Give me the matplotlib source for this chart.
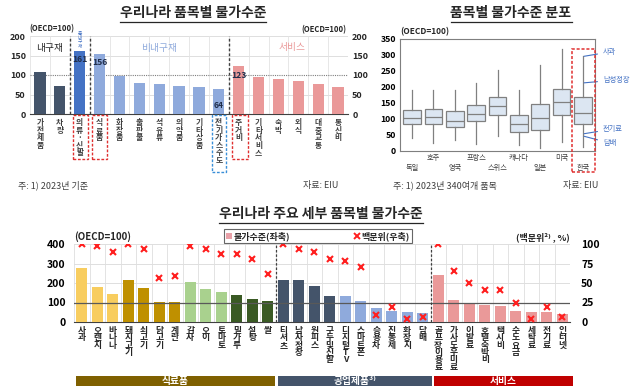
import matplotlib
matplotlib.use('Agg')
import matplotlib.pyplot as plt
from matplotlib.patches import Rectangle, Patch
from matplotlib.lines import Line2D

plt.rcParams['font.family'] = ['Noto Sans CJK KR', 'DejaVu Sans']

# ---- 데이터: 우리나라 품목별 물가수준 (OECD=100)
items1 = ['가전제품', '차량', '의류·신발', '식료품', '화장품', '출판물', '석유류', '의약품',
          '기타상품', '전기가스수도', '주거비', '기타서비스', '숙박', '외식', '대중교통', '통신비']
vals1 = [108, 73, 161, 155, 98, 80, 78, 73, 68, 64, 123, 94, 90, 85, 78, 70]
group1 = ['내구', '내구', '준내구', '비내구', '비내구', '비내구', '비내구', '비내구',
          '비내구', '비내구', '서비스', '서비스', '서비스', '서비스', '서비스', '서비스']
shown1 = {2: '161', 3: '156', 9: '64', 10: '123'}

# ---- 데이터: 품목별 물가수준 분포
countries = ['독일', '호주', '영국', '프랑스', '스위스', '캐나다', '일본', '미국', '한국']
whis_lo = [42, 24, 33, 21, 46, 18, 8, 27, 14]
q1 = [83, 83, 75, 95, 112, 58, 65, 111, 83]
med = [102, 105, 94, 116, 140, 83, 102, 153, 118]
q3 = [127, 130, 124, 143, 168, 114, 147, 195, 168]
whis_hi = [190, 190, 190, 212, 252, 190, 268, 318, 296]
kr_notes = ['사과', '남성정장', '전기료', '담배']
kr_note_vals = [296, 213, 54, 46]

# ---- 데이터: 우리나라 주요 세부 품목별 물가수준
items3 = ['사과', '오렌지', '바나나', '돼지고기', '쇠고기', '닭고기', '계란', '감자', '오이', '토마토',
          '밀가루', '설탕', '쌀', '티셔츠', '남자정장', '원피스', '구두및신발', '디지털TV', '스마트폰',
          '승용차', '진통제', '화장지', '담배', '골프장이용료', '가사도우미료', '이발료', '호텔숙박비',
          '택시비', '수도요금', '세탁료', '전기료', '인터넷']
level3 = [278, 180, 145, 213, 176, 101, 101, 206, 167, 155, 140, 118, 110, 214, 213, 187, 135,
          132, 108, 74, 57, 52, 47, 241, 115, 95, 89, 83, 57, 52, 52, 40]
pct3 = [100, 97, 90, 100, 93, 56, 59, 97, 93, 87, 87, 81, 62, 100, 93, 90, 81, 78, 70, 9, 19,
        4, 7, 100, 66, 50, 41, 41, 24, 4, 19, 6]
sub3 = ['과일'] * 3 + ['육류'] * 4 + ['채소'] * 3 + ['곡물'] * 3 + ['의류'] * 4 + ['공산품'] * 6 + ['서비스'] * 9
bands = ['식료품', '공업제품³⁾', '서비스']

W, H = 640, 388
fig = plt.figure(figsize=(6.4, 3.88), dpi=100)


def rect(x0, y0, x1, y1):
    return [x0 / W, 1 - y1 / H, (x1 - x0) / W, (y1 - y0) / H]


def ptext(x, y, s, **kw):
    return fig.text(x / W, 1 - y / H, s, **kw)


def pbox(x0, y0, x1, y1, **kw):
    fig.add_artist(Rectangle((x0 / W, 1 - y1 / H), (x1 - x0) / W, (y1 - y0) / H,
                             transform=fig.transFigure, **kw))


def vert(s):
    return '\n'.join(s)


c1 = {'내구': '#44546a', '준내구': '#4472c4', '비내구': '#8faadc', '서비스': '#ea9999'}

# ===== 1) 우리나라 품목별 물가수준
ax1 = fig.add_axes(rect(30, 36, 348, 114))
x1 = range(len(items1))
ax1.bar(x1, vals1, width=0.57, color=[c1[g] for g in group1], zorder=3)
ax1.set_xlim(-0.5, len(items1) - 0.5)
ax1.set_ylim(0, 200)
ax1.set_yticks([0, 50, 100, 150, 200])
for v in [50, 150, 200]:
    ax1.axhline(v, color='#d9d9d9', lw=0.6, zorder=1)
ax1.axhline(100, color='#7f7f7f', lw=0.8, ls=(0, (1, 1)), zorder=2)
for b in range(len(items1) + 1):
    ax1.axvline(b - 0.5, color='#e3e3e3', lw=0.6, zorder=1)
for b in [1.5, 2.5, 9.5]:
    ax1.axvline(b, color='#404040', lw=1.0, ls=(0, (2, 1.5)), zorder=4)
for s in ax1.spines.values():
    s.set_visible(False)
ax1.spines['bottom'].set_visible(True)
ax1.spines['bottom'].set_color('#404040')
ax1.tick_params(axis='y', length=0, labelsize=6.5, labelright=True, pad=3, labelcolor='#262626')
for t in ax1.get_yticklabels():
    t.set_fontweight('bold')
ax1.set_xticks(list(x1))
ax1.set_xticklabels([vert(s) for s in items1], fontsize=5.6, fontweight='bold',
                    color='#404040', linespacing=0.78, va='top')
ax1.tick_params(axis='x', length=0, pad=3)
for i, s in shown1.items():
    y = vals1[i] - 22 if i in (2, 3) else (100 if i == 10 else 22)
    ax1.text(i, y, s, ha='center', va='center', fontsize=6.2, fontweight='bold',
             color='#1f2d4a', zorder=5)
ax1.text(0.5, 168, '내구재', ha='center', va='center', fontsize=7, color='#262626')
ax1.text(6, 170, '비내구재', ha='center', va='center', fontsize=7, color='#8faadc')
ax1.text(12.7, 171, '서비스', ha='center', va='center', fontsize=7, color='#ea9999')
ax1.text(2.0, 214, vert('준내구재'), ha='center', va='top', fontsize=3.4,
         color='#4472c4', linespacing=0.85, clip_on=False, zorder=6)
ptext(29, 29, '(OECD=100)', fontsize=5.5, fontweight='bold', va='center', color='#262626')
ptext(346, 30, '(OECD=100)', fontsize=5.5, fontweight='bold', va='center', ha='right', color='#262626')
for x0, x1b, y1b, col in [(73, 88, 159, 'r'), (92, 107, 159, 'r'), (212, 226, 172, 'b'),
                          (232, 248, 159, 'r')]:
    pbox(x0, 115, x1b, y1b, fill=False, lw=1.0, ls=(0, (2, 1.2)),
         edgecolor='#e03030' if col == 'r' else '#3a8fd8')
ptext(18, 185, '주: 1) 2023년 기준', fontsize=6.5, va='center', color='#404040')
ptext(338, 185, '자료: EIU', fontsize=6.5, va='center', ha='right', color='#404040')

# ===== 2) 품목별 물가수준 분포
ax2 = fig.add_axes(rect(400, 39, 595, 151))
stats = [dict(med=m, q1=a, q3=b, whislo=lo, whishi=hi, fliers=[])
         for m, a, b, lo, hi in zip(med, q1, q3, whis_lo, whis_hi)]
pos = list(range(1, len(countries) + 1))
ax2.bxp(stats, positions=pos, widths=0.82, patch_artist=True, showcaps=False,
        boxprops=dict(facecolor='#dce6f2', edgecolor='#808080', lw=0.9),
        medianprops=dict(color='#808080', lw=0.9),
        whiskerprops=dict(color='#808080', lw=0.9))
ax2.set_xlim(0.44, 9.56)
ax2.set_ylim(0, 350)
ax2.set_yticks(range(0, 351, 50))
for s in ax2.spines.values():
    s.set_color('#7f7f7f')
    s.set_linewidth(0.8)
ax2.tick_params(axis='y', length=0, labelsize=6.3, pad=3)
for t in ax2.get_yticklabels():
    t.set_fontweight('bold')
ax2.set_xticks(pos)
ax2.set_xticklabels([c + '\n' if i % 2 else '\n' + c for i, c in enumerate(countries)],
                    fontsize=5.2, color='#404040', linespacing=1.3)
ax2.tick_params(axis='x', length=0, pad=2)
ptext(400, 32, '(OECD=100)', fontsize=6, fontweight='bold', va='center', color='#262626')
note_y = [52, 80, 129, 143]
for nm, v, ty in zip(kr_notes, kr_note_vals, note_y):
    ax2.annotate(nm, xy=(9.05, v), xycoords='data',
                 xytext=(603 / W, 1 - ty / H), textcoords='figure fraction',
                 fontsize=5.2, color='#4472c4', va='center',
                 arrowprops=dict(arrowstyle='-', color='#4472c4', lw=0.8,
                                 shrinkA=2, shrinkB=0))
pbox(572, 49, 595, 172, fill=False, lw=1.1, ls=(0, (2, 1.2)), edgecolor='#e03030')
ptext(393, 185, '주: 1) 2023년 340여개 품목', fontsize=6.5, va='center', color='#404040')
ptext(598, 185, '자료: EIU', fontsize=6.5, va='center', ha='right', color='#404040')

# ===== 3) 우리나라 주요 세부 품목별 물가수준
c3 = {'과일': '#f8cd5f', '육류': '#bf9000', '채소': '#a9d18e', '곡물': '#3a5a24',
      '의류': '#44546a', '공산품': '#8faadc', '서비스': '#ea9999'}
ax3 = fig.add_axes(rect(74, 244, 570, 322))
x3 = range(len(items3))
ax3.bar(x3, level3, width=0.69, color=[c3[g] for g in sub3], zorder=3)
ax3.set_xlim(-0.5, len(items3) - 0.5)
ax3.set_ylim(0, 400)
ax3.set_yticks(range(0, 401, 100))
for v in [200, 300, 400]:
    ax3.axhline(v, color='#d9d9d9', lw=0.6, zorder=1)
ax3.axhline(100, color='#595959', lw=0.9, zorder=4)
for b in range(len(items3) + 1):
    ax3.axvline(b - 0.5, color='#dedede', lw=0.6, zorder=1)
for b in [12.5, 22.5]:
    ax3.axvline(b, color='#404040', lw=0.9, ls=(0, (2, 1.5)), zorder=4)
for s in ax3.spines.values():
    s.set_visible(False)
ax3.spines['bottom'].set_visible(True)
ax3.spines['bottom'].set_color('#404040')
ax3.tick_params(axis='y', length=0, labelsize=7.5, pad=6)
for t in ax3.get_yticklabels():
    t.set_fontweight('bold')
ax3.set_xticks(list(x3))
ax3.set_xticklabels([vert(s) for s in items3], fontsize=6.3, fontweight='bold',
                    color='#262626', linespacing=0.76, va='top')
ax3.tick_params(axis='x', length=0, pad=3)

ax3b = ax3.twinx()
ax3b.plot(list(x3), pct3, ls='none', marker='x', ms=4.2, mew=1.5, color='#ff1f1f', zorder=5)
ax3b.set_ylim(0, 100)
ax3b.set_yticks([0, 25, 50, 75, 100])
for s in ax3b.spines.values():
    s.set_visible(False)
ax3b.tick_params(axis='y', length=0, labelsize=7.5, pad=8)
for t in ax3b.get_yticklabels():
    t.set_fontweight('bold')

ptext(74, 237, '(OECD=100)', fontsize=7, fontweight='bold', va='center', color='#262626')
ptext(570, 237, '(백분위²⁾ , %)', fontsize=6.5, fontweight='bold', va='center', ha='right',
      color='#262626')
leg = fig.legend(handles=[Patch(facecolor='#e8a0a8', edgecolor='none'),
                          Line2D([], [], ls='none', marker='x', ms=4, mew=1.4, color='#ff1f1f')],
                 labels=['물가수준(좌축)', '백분위(우축)'], ncol=2, loc='center',
                 bbox_to_anchor=(318 / W, 1 - 236 / H), frameon=True,
                 fancybox=False, edgecolor='#404040', handlelength=0.7, handleheight=0.7,
                 handletextpad=0.2, columnspacing=7, borderpad=0.2, borderaxespad=0,
                 prop={'weight': 'bold', 'size': 6.5})
leg.get_frame().set_linewidth(0.8)
for t in leg.get_texts():
    t.set_color('#262626')

for (x0, x1b, col), nm in zip([(76, 275, '#7f6000'), (278, 432, '#44546a'), (434, 573, '#c00000')], bands):
    pbox(x0, 376, x1b, 386, facecolor=col, edgecolor='none')
    ptext((x0 + x1b) / 2, 381, nm, fontsize=7, fontweight='bold', color='white',
          ha='center', va='center')

# ---- 제목 (밑줄)
titles = [('우리나라 품목별 물가수준', 193, 13), ('품목별 물가수준 분포', 511, 13),
          ('우리나라 주요 세부 품목별 물가수준', 321, 214)]
tobjs = [ptext(x, y, s, fontsize=10, fontweight='bold', ha='center', va='center', color='#262626')
         for s, x, y in titles]
fig.canvas.draw()
r = fig.canvas.get_renderer()
for t in tobjs:
    bb = t.get_window_extent(r).transformed(fig.transFigure.inverted())
    fig.add_artist(Line2D([bb.x0, bb.x1], [bb.y0 - 0.004, bb.y0 - 0.004],
                          transform=fig.transFigure, color='#262626', lw=0.9))

fig.savefig('out.png', dpi=100)
